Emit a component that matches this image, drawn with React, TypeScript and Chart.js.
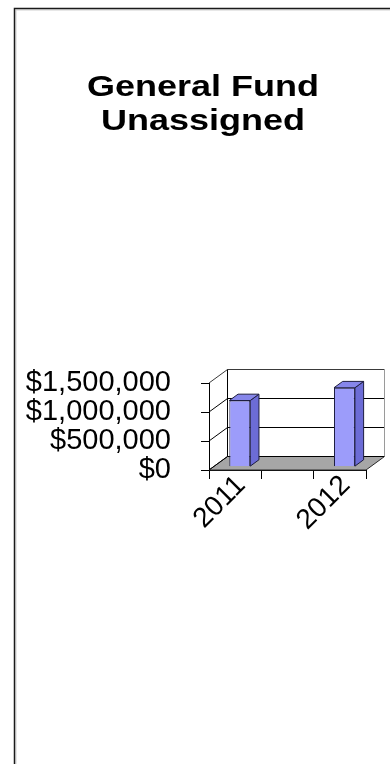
import React, { useEffect, useRef } from "react";
import { Chart, registerables } from "chart.js";

Chart.register(...registerables);

// ---- data ----
const titleLines = ["General Fund", "Unassigned"];
const categories = ["2011", "", "2012"];
const fundValues: (number | null)[] = [1140000, null, 1360000];
const yTickValues = [0, 500000, 1000000, 1500000];

// ---- 3D look ----
const DX = 18.5;
const DY = -13.5;
const BAR_FRONT = 0.25;
const BAR_BACK = 0.72;
const TITLE_CENTER = 203;
const TITLE_STRETCH = 1.2;
const FONT = "'Liberation Sans', Arial, Helvetica, sans-serif";

const money = (v: number) => "$" + Number(v).toLocaleString("en-US");

function poly(ctx: CanvasRenderingContext2D, pts: number[][], fill: string, stroke: string) {
  ctx.beginPath();
  ctx.moveTo(pts[0][0], pts[0][1]);
  for (let i = 1; i < pts.length; i++) ctx.lineTo(pts[i][0], pts[i][1]);
  ctx.closePath();
  ctx.fillStyle = fill;
  ctx.fill();
  ctx.strokeStyle = stroke;
  ctx.lineWidth = 1;
  ctx.stroke();
}

const frame3d = {
  id: "frame3d",
  beforeDraw(chart: any) {
    const ctx = chart.ctx as CanvasRenderingContext2D;
    ctx.save();
    ctx.fillStyle = "#ffffff";
    ctx.fillRect(0, 0, chart.width, chart.height);
    ctx.strokeStyle = "#cfcfcf";
    ctx.lineWidth = 1;
    ctx.beginPath();
    ctx.moveTo(16, chart.height);
    ctx.lineTo(16, 10);
    ctx.lineTo(chart.width, 10);
    ctx.stroke();
    ctx.strokeStyle = "#1a1a1a";
    ctx.lineWidth = 1.5;
    ctx.beginPath();
    ctx.moveTo(14.5, chart.height);
    ctx.lineTo(14.5, 8.5);
    ctx.lineTo(chart.width, 8.5);
    ctx.stroke();
    ctx.restore();

    const tb = chart.titleBlock;
    if (tb && !tb.__stretched) {
      const orig = tb.draw.bind(tb);
      tb.draw = function (area: any) {
        const c = chart.ctx;
        const cx = (tb.left + tb.right) / 2;
        c.save();
        c.translate(TITLE_CENTER, 0);
        c.scale(TITLE_STRETCH, 1);
        c.translate(-cx, 0);
        orig(area);
        c.restore();
      };
      tb.__stretched = true;
    }
  },
  beforeDatasetsDraw(chart: any) {
    const ctx = chart.ctx as CanvasRenderingContext2D;
    const { left: L, right: R, top: T, bottom: B } = chart.chartArea;
    const ys = chart.scales.y;
    ctx.save();
    ctx.fillStyle = "#ffffff";
    ctx.fillRect(L + DX, T + DY, R - L, B - T);
    poly(
      ctx,
      [
        [L, B],
        [R, B],
        [R + DX, B + DY],
        [L + DX, B + DY],
      ],
      "#a6a6a6",
      "#2a2a2a"
    );
    ctx.lineWidth = 1;
    yTickValues.forEach((v) => {
      const y = ys.getPixelForValue(v);
      ctx.strokeStyle = v === yTickValues[yTickValues.length - 1] ? "#3a3a3a" : "#000000";
      ctx.beginPath();
      ctx.moveTo(L, y);
      ctx.lineTo(L + DX, y + DY);
      ctx.lineTo(R + DX, y + DY);
      ctx.stroke();
    });
    ctx.strokeStyle = "#000000";
    ctx.beginPath();
    ctx.moveTo(L + DX, T + DY);
    ctx.lineTo(L + DX, B + DY);
    ctx.stroke();
    ctx.strokeStyle = "#9a9a9a";
    ctx.beginPath();
    ctx.moveTo(R + DX, T + DY);
    ctx.lineTo(R + DX, B + DY);
    ctx.stroke();
    ctx.restore();

    ctx.save();
    ctx.translate(BAR_FRONT * DX, BAR_FRONT * DY);
  },
  afterDatasetsDraw(chart: any) {
    const ctx = chart.ctx as CanvasRenderingContext2D;
    ctx.restore();
    const meta = chart.getDatasetMeta(0);
    const f0x = BAR_FRONT * DX, f0y = BAR_FRONT * DY;
    const f1x = BAR_BACK * DX, f1y = BAR_BACK * DY;
    ctx.save();
    meta.data.forEach((el: any, i: number) => {
      if (fundValues[i] == null) return;
      const { x, y, base, width } = el.getProps(["x", "y", "base", "width"], true);
      if (!isFinite(x) || !isFinite(y)) return;
      const x0 = x - width / 2;
      const x1 = x + width / 2;
      poly(
        ctx,
        [
          [x1 + f0x, y + f0y],
          [x1 + f1x, y + f1y],
          [x1 + f1x, base + f1y],
          [x1 + f0x, base + f0y],
        ],
        "#6c6cd6",
        "#1e1e40"
      );
      poly(
        ctx,
        [
          [x0 + f0x, y + f0y],
          [x1 + f0x, y + f0y],
          [x1 + f1x, y + f1y],
          [x0 + f1x, y + f1y],
        ],
        "#8686ea",
        "#1e1e40"
      );
    });
    ctx.restore();
  },
};

export default function App() {
  const ref = useRef<HTMLCanvasElement | null>(null);
  useEffect(() => {
    if (!ref.current) return;
    Chart.defaults.font.family = FONT;
    const chart = new Chart(ref.current, {
      type: "bar",
      data: {
        labels: categories,
        datasets: [
          {
            label: "General Fund Unassigned",
            data: fundValues,
            backgroundColor: "#9c9cfa",
            borderColor: "#1e1e40",
            borderWidth: 1,
            barPercentage: 0.4,
            categoryPercentage: 1.0,
          },
        ],
      },
      options: {
        responsive: false,
        animation: false,
        devicePixelRatio: 1,
        layout: { padding: { left: 14, right: 24, top: 0, bottom: 174 } },
        plugins: {
          legend: { display: false },
          tooltip: { enabled: false },
          title: {
            display: true,
            text: titleLines,
            color: "#000000",
            font: { family: FONT, size: 30, weight: "bold", lineHeight: 1.15 },
            padding: { top: 70, bottom: 244 },
          },
        },
        scales: {
          x: {
            type: "category",
            offset: true,
            grid: {
              offset: true,
              drawOnChartArea: false,
              drawTicks: true,
              tickLength: 9,
              color: "#000000",
            },
            border: { display: true, color: "#000000" },
            ticks: {
              autoSkip: false,
              minRotation: 45,
              maxRotation: 45,
              padding: -8,
              labelOffset: 6,
              color: "#000000",
              font: { family: FONT, size: 28, lineHeight: 1 },
            },
            afterFit: (s: any) => {
              s.height = 120;
            },
          },
          y: {
            min: 0,
            max: 1500000,
            afterBuildTicks: (s: any) => {
              s.ticks = yTickValues.map((v) => ({ value: v }));
            },
            grid: { drawOnChartArea: false, drawTicks: true, tickLength: 8, color: "#000000" },
            border: { display: true, color: "#000000" },
            ticks: {
              autoSkip: false,
              padding: 30,
              color: "#000000",
              font: { family: FONT, size: 29, lineHeight: 1 },
              callback: (v: any) => money(v),
            },
            afterFit: (s: any) => {
              s.width = 195;
            },
          },
        },
      },
      plugins: [frame3d],
    } as any);
    return () => chart.destroy();
  }, []);
  return (
    <div style={{ position: "absolute", left: 0, top: 0, width: 390, height: 764, background: "#fff" }}>
      <canvas ref={ref} width={390} height={764} style={{ display: "block", width: 390, height: 764 }} />
    </div>
  );
}
